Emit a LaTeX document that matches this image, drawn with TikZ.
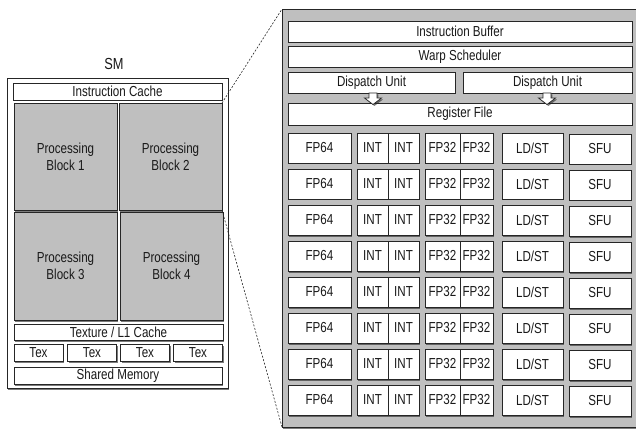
\documentclass[tikz,border=0pt]{standalone}
\usepackage{fontspec}
\setmainfont[FakeStretch=0.8]{Liberation Sans}
\usetikzlibrary{shadows}

\tikzset{
  shade/.style={drop shadow={shadow xshift=1.4pt, shadow yshift=-1.5pt, opacity=0.6, fill=black!85}},
  box/.style={draw=black!85, line width=0.9pt, fill=white, inner sep=0pt, outer sep=0pt,
    anchor=north west, font=\fontsize{14.5}{15.5}\selectfont, text=black!90, align=center, shade},
  graybox/.style={box, fill=black!25, font=\fontsize{14.5}{17}\selectfont},
  zoomline/.style={draw=black!85, line width=0.6pt, dash pattern=on 2pt off 1.6pt},
  blockarrow/.style={draw=black!85, line width=0.7pt, fill=white, line join=miter, shade}
}

\begin{document}
\begin{tikzpicture}[x=1pt,y=-1pt]
\useasboundingbox (0,0) rectangle (636,430);

% ---- streaming multiprocessor overview ----
\node[font=\fontsize{16}{17}\selectfont, text=black!90] (smlabel) at (114,64) {SM};
\node[box, minimum width=221, minimum height=310] (sm) at (7,78) {};
\node[box, minimum width=209, minimum height=17] (icache) at (13,83) {Instruction Cache};
\node[graybox, minimum width=103, minimum height=107] (pb1) at (14,103) {Processing\\Block 1};
\node[graybox, minimum width=103, minimum height=107] (pb2) at (119,103) {Processing\\Block 2};
\node[graybox, minimum width=103, minimum height=108] (pb3) at (14,212) {Processing\\Block 3};
\node[graybox, minimum width=103, minimum height=108] (pb4) at (120,212) {Processing\\Block 4};
\node[box, minimum width=209, minimum height=16.5] (tex) at (14,324) {Texture / L1 Cache};
\node[box, minimum width=49, minimum height=17.5] (tex1) at (14,344) {Tex};
\node[box, minimum width=49, minimum height=17.5] (tex2) at (67.5,344) {Tex};
\node[box, minimum width=49, minimum height=17.5] (tex3) at (120.5,344) {Tex};
\node[box, minimum width=49, minimum height=17.5] (tex4) at (173.5,344) {Tex};
\node[box, minimum width=208, minimum height=17] (shmem) at (14,367) {Shared Memory};

% ---- processing block detail ----
\node[graybox, minimum width=356, minimum height=418] (zoom) at (282,9) {};
\node[box, minimum width=344, minimum height=21] (ibuf) at (288,21) {Instruction Buffer};
\node[box, minimum width=344, minimum height=21] (warp) at (288,46) {Warp Scheduler};
\node[box, minimum width=167, minimum height=21] (du1) at (288,72) {\raisebox{2pt}{Dispatch Unit}};
\node[box, minimum width=169, minimum height=21] (du2) at (463,72) {Dispatch Unit};
\node[box, minimum width=344, minimum height=22] (rf) at (288,103) {Register File};

% dispatch arrows into the register file
\draw[blockarrow] (369,93) -- (377,93) -- (377,98) -- (381.5,98) -- (373,104.5)
  -- (364.5,98) -- (369,98) -- cycle;
\draw[blockarrow] (543,93) -- (551,93) -- (551,98) -- (555.5,98) -- (547,104.5)
  -- (538.5,98) -- (543,98) -- cycle;

% execution units, eight lanes
\foreach \i in {0,...,7} {
  \pgfmathsetmacro\ty{133+36*\i}
  \node[box, minimum width=63, minimum height=30] (fp64-\i) at (288,\ty) {FP64};
  \node[box, minimum width=31, minimum height=30] (inta-\i) at (357,\ty) {INT};
  \node[box, minimum width=31, minimum height=30] (intb-\i) at (388,\ty) {INT};
  \node[box, minimum width=35, minimum height=30] (fpa-\i) at (425,\ty) {FP32};
  \node[box, minimum width=33, minimum height=30] (fpb-\i) at (460,\ty) {FP32};
  \node[box, minimum width=61, minimum height=30] (ldst-\i) at (502,\ty) {LD/ST};
  \node[box, minimum width=62, minimum height=30] (sfu-\i) at (569,\ty+1) {\raisebox{-1.5pt}{SFU}};
}

% zoom guides from block 2 to its detailed view
\draw[zoomline] (pb2.north east) -- (zoom.north west);
\draw[zoomline] (pb2.south east) -- (zoom.south west);
\end{tikzpicture}
\end{document}
